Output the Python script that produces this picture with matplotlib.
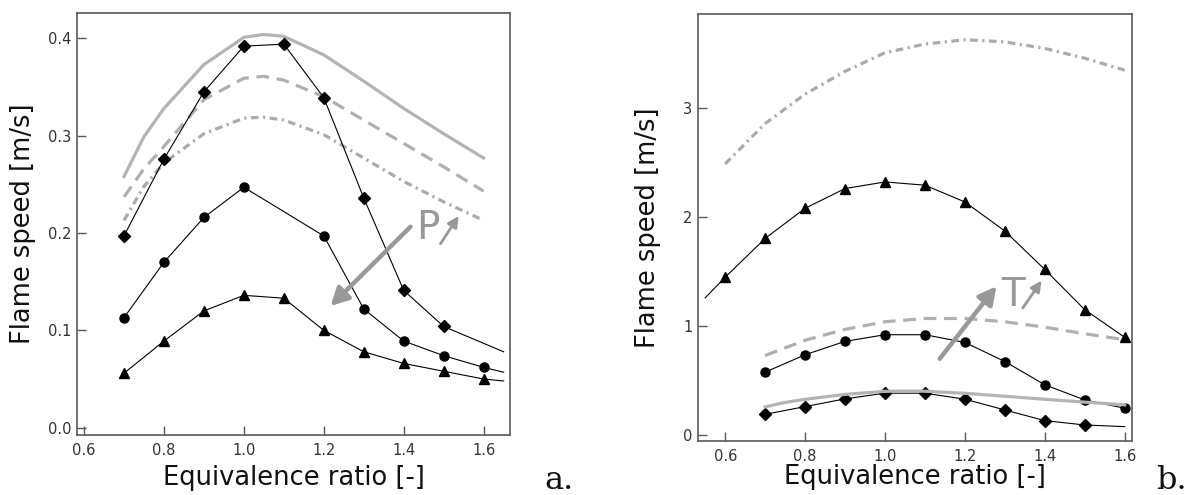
import matplotlib
matplotlib.use("Agg")
import matplotlib.pyplot as plt
import numpy as np

# ---------------- datos ----------------
phi = [0.7, 0.8, 0.9, 1.0, 1.1, 1.2, 1.3, 1.4, 1.5, 1.6]

# panel a. - simulaciones (gris), con puntos extra en 0.75 y 1.05
phi_sim = [0.7, 0.75, 0.8, 0.9, 1.0, 1.05, 1.1, 1.2, 1.3, 1.4, 1.5, 1.6]
a_solid = [0.258, 0.299, 0.328, 0.373, 0.401, 0.404, 0.402, 0.383, 0.356, 0.328, 0.302, 0.277]
a_dash = [0.237, 0.266, 0.289, 0.337, 0.359, 0.361, 0.357, 0.340, 0.316, 0.292, 0.268, 0.243]
a_dashdot = [0.213, 0.248, 0.272, 0.302, 0.318, 0.319, 0.316, 0.301, 0.277, 0.253, 0.232, 0.213]

# panel a. - puntos (negro)
a_diam_x = [0.7, 0.8, 0.9, 1.0, 1.1, 1.2, 1.3, 1.4, 1.5, 1.65]
a_diam_y = [0.197, 0.276, 0.345, 0.392, 0.394, 0.339, 0.236, 0.141, 0.104, 0.078]
a_circ_x = [0.7, 0.8, 0.9, 1.0, 1.2, 1.3, 1.4, 1.5, 1.6, 1.65]
a_circ_y = [0.113, 0.170, 0.216, 0.247, 0.197, 0.122, 0.089, 0.074, 0.062, 0.057]
a_tri_x = [0.7, 0.8, 0.9, 1.0, 1.1, 1.2, 1.3, 1.4, 1.5, 1.6, 1.65]
a_tri_y = [0.056, 0.089, 0.120, 0.136, 0.133, 0.100, 0.078, 0.066, 0.058, 0.050, 0.048]

# panel b. - simulaciones (gris)
b_phi_dd = [0.6, 0.7, 0.8, 0.9, 1.0, 1.1, 1.2, 1.3, 1.4, 1.5, 1.6]
b_dashdot = [2.49, 2.86, 3.13, 3.34, 3.51, 3.59, 3.63, 3.61, 3.55, 3.46, 3.35]
b_dash = [0.73, 0.87, 0.97, 1.04, 1.07, 1.07, 1.04, 0.99, 0.93, 0.875]
b_solid = a_solid  # la misma curva que en el panel a.

# panel b. - puntos (negro)
b_tri_x = [0.55, 0.6, 0.7, 0.8, 0.9, 1.0, 1.1, 1.2, 1.3, 1.4, 1.5, 1.6]
b_tri_y = [1.26, 1.449, 1.805, 2.082, 2.263, 2.324, 2.294, 2.140, 1.873, 1.520, 1.151, 0.897]
b_circ_y = [0.577, 0.737, 0.860, 0.921, 0.921, 0.850, 0.675, 0.461, 0.322, 0.246]
b_diam_x = [0.7, 0.8, 0.9, 1.0, 1.1, 1.2, 1.3, 1.4, 1.5, 1.6]
b_diam_y = [0.190, 0.261, 0.332, 0.384, 0.384, 0.329, 0.230, 0.132, 0.092, 0.077]

gris_sol = '#b4b4b4'
gris_dash = '#b0b0b0'
gris_dd = '#ababab'
gris_flecha = '#999999'
espina = '#5a5a5a'

fig = plt.figure(figsize=(11.92, 4.95), dpi=100)
ax1 = fig.add_axes([0.0648, 0.1212, 0.3634, 0.8531])
ax2 = fig.add_axes([0.5856, 0.1091, 0.3638, 0.8626])

dash_ls = (0, (4.0, 2.4))
dd_ls = (0, (2.4, 1.4, 0.7, 1.4))


def estilo(ax):
    for s in ax.spines.values():
        s.set_color(espina)
        s.set_linewidth(1.2)
    ax.tick_params(direction='in', length=6.5, width=1.0, color=espina,
                   labelsize=10.5, labelcolor='#333333')
    ax.tick_params(axis='x', pad=6)
    ax.tick_params(axis='y', pad=4)
    ax.set_xticks([0.6, 0.8, 1.0, 1.2, 1.4, 1.6])
    ax.set_xticklabels(['0.6', '0.8', '1.0', '1.2', '1.4', '1.6'])
    ax.set_xlabel('Equivalence ratio [-]', fontsize=18.5, color='#111111')
    ax.set_ylabel('Flame speed [m/s]', fontsize=18.5, color='#111111')


flecha_grande = dict(arrowstyle='-|>,head_length=0.42,head_width=0.22',
                     color=gris_flecha, lw=3.2, mutation_scale=25,
                     shrinkA=0, shrinkB=0)
flecha_chica = dict(arrowstyle='-|>,head_length=0.4,head_width=0.2',
                    color=gris_flecha, lw=2.0, mutation_scale=16,
                    shrinkA=0, shrinkB=0)

# ---------------- panel a. ----------------
ax1.plot(phi_sim, a_solid, color=gris_sol, lw=2.3, zorder=1)
ax1.plot(phi_sim, a_dash, color=gris_dash, lw=2.3, linestyle=dash_ls, zorder=1)
ax1.plot(phi_sim, a_dashdot, color=gris_dd, lw=2.3, linestyle=dd_ls, zorder=1)

mk = dict(color='black', lw=0.8, zorder=3)
ax1.plot(a_diam_x, a_diam_y, marker='D', ms=6.5, markevery=list(range(9)), **mk)
ax1.plot(a_circ_x, a_circ_y, marker='o', ms=6.5, markevery=list(range(9)), **mk)
ax1.plot(a_tri_x, a_tri_y, marker='^', ms=7, markevery=list(range(10)), **mk)

ax1.annotate('', xy=(1.217, 0.125), xytext=(1.417, 0.2065),
             arrowprops=flecha_grande, zorder=4)
ax1.annotate('', xy=(1.5375, 0.2175), xytext=(1.492, 0.189),
             arrowprops=flecha_chica, zorder=4)
ax1.text(1.46, 0.205, 'P', fontsize=28, color=gris_flecha, ha='center', va='center')

estilo(ax1)
ax1.set_xlim(0.583, 1.667)
ax1.set_ylim(-0.0075, 0.4263)
ax1.set_yticks([0.0, 0.1, 0.2, 0.3, 0.4])
ax1.set_yticklabels(['0.0', '0.1', '0.2', '0.3', '0.4'])

# ---------------- panel b. ----------------
ax2.plot(b_phi_dd, b_dashdot, color=gris_dd, lw=2.3, linestyle=dd_ls, zorder=1)
ax2.plot(phi, b_dash, color=gris_dash, lw=2.3, linestyle=dash_ls, zorder=1)

ax2.plot(b_tri_x, b_tri_y, marker='^', ms=7, markevery=list(range(1, 12)), **mk)
ax2.plot(phi, b_circ_y, marker='o', ms=6.5, **mk)
ax2.plot(b_diam_x, b_diam_y, marker='D', ms=6.5, markevery=list(range(9)), **mk)
ax2.plot(phi_sim, b_solid, color=gris_sol, lw=2.3, zorder=4)

ax2.annotate('', xy=(1.279, 1.366), xytext=(1.137, 0.70),
             arrowprops=flecha_grande, zorder=5)
ax2.annotate('', xy=(1.392, 1.418), xytext=(1.345, 1.167),
             arrowprops=flecha_chica, zorder=5)
ax2.text(1.321, 1.29, 'T', fontsize=28, color=gris_flecha, ha='center', va='center')

estilo(ax2)
ax2.set_xlim(0.532, 1.6175)
ax2.set_ylim(-0.055, 3.866)
ax2.set_yticks([0, 1, 2, 3])
ax2.set_yticklabels(['0', '1', '2', '3'])

ax1.yaxis.set_label_coords(-0.095, 0.5)
ax2.yaxis.set_label_coords(-0.085, 0.5)
ax1.xaxis.set_label_coords(0.5, -0.072)
ax2.xaxis.set_label_coords(0.5, -0.055)

fig.text(0.457, 0.012, 'a.', fontsize=23, family='DejaVu Serif', color='#111111')
fig.text(0.970, 0.012, 'b.', fontsize=23, family='DejaVu Serif', color='#111111')

fig.savefig('out.png', dpi=100)
